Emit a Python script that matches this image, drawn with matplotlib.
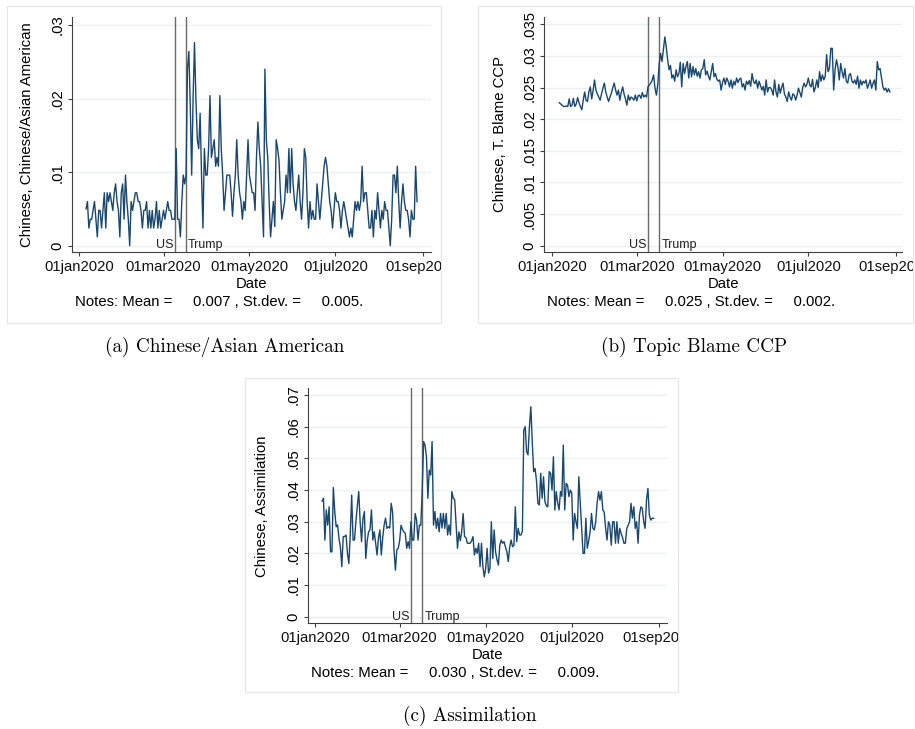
import matplotlib
matplotlib.use("Agg")
import matplotlib.pyplot as plt
from matplotlib.patches import Rectangle
from matplotlib.transforms import Bbox, TransformedBbox
import numpy as np

plt.rcParams['font.family'] = ['Liberation Sans', 'DejaVu Sans']

W, H = 915, 729

# ---------------- data ----------------
start_day = 5                     # first observation: 06jan2020 (day 0 = 01jan2020)
tick_days = [0, 60, 121, 182, 244]
tick_labels = ['01jan2020', '01mar2020', '01may2020', '01jul2020', '01sep2020']
event_days = [68, 76]
event_names = ['US', 'Trump']

# values in units of 0.001
asian = [5.0, 6.0, 2.4, 3.6, 3.6, 4.8, 6.0, 3.6, 1.2, 4.8,
         4.8, 2.4, 4.8, 7.2, 2.4, 7.2, 6.0, 7.2, 6.0, 4.8,
         7.2, 8.4, 6.0, 4.8, 1.2, 7.2, 8.4, 3.6, 9.6, 6.0,
         3.6, 0.0, 6.0, 4.8, 6.0, 7.2, 7.2, 6.0, 6.0, 4.8,
         2.4, 4.8, 4.8, 6.0, 2.4, 4.8, 2.4, 4.8, 2.4, 3.6,
         6.0, 2.4, 4.8, 2.4, 3.6, 4.8, 3.6, 4.8, 6.0, 4.8,
         4.8, 3.6, 3.6, 3.6, 13.2, 3.6, 3.6, 1.2, 6.0, 9.6,
         8.4, 9.6, 24.0, 26.4, 19.0, 9.6, 20.0, 27.6, 20.0, 14.4,
         13.2, 18.0, 9.6, 2.4, 13.2, 9.6, 9.6, 13.2, 20.4, 12.0,
         13.2, 14.4, 10.8, 12.0, 10.8, 20.4, 13.2, 9.6, 4.8, 7.2,
         9.6, 9.6, 9.6, 7.2, 4.0, 7.2, 9.6, 14.4, 9.6, 7.2,
         6.0, 3.6, 6.0, 4.8, 9.6, 14.4, 9.6, 8.4, 7.2, 7.2,
         4.8, 12.0, 16.8, 13.2, 10.8, 6.0, 1.2, 24.0, 14.4, 12.0,
         6.0, 1.2, 3.6, 6.0, 2.6, 14.4, 13.2, 11.6, 7.2, 3.6,
         4.8, 6.0, 9.6, 7.2, 13.2, 7.2, 13.2, 8.4, 6.0, 4.8,
         7.2, 9.6, 6.0, 3.6, 7.2, 13.2, 12.0, 6.0, 2.4, 6.0,
         3.6, 4.8, 3.6, 3.6, 8.4, 6.0, 3.6, 6.0, 8.4, 10.8,
         12.0, 10.8, 8.4, 6.0, 4.8, 2.4, 4.8, 7.2, 6.0, 6.0,
         4.8, 2.4, 4.8, 6.0, 4.8, 3.6, 2.4, 1.2, 2.4, 1.2,
         3.6, 6.0, 4.8, 6.0, 4.8, 6.0, 10.8, 6.0, 7.2, 7.2,
         4.8, 2.4, 2.4, 4.8, 1.2, 4.8, 3.6, 7.2, 4.8, 2.4,
         4.8, 3.6, 6.0, 4.8, 4.8, 2.4, 0.0, 3.6, 9.6, 9.6,
         7.2, 10.8, 6.0, 2.4, 6.0, 8.4, 6.0, 4.8, 4.8, 3.6,
         1.2, 4.8, 3.6, 3.6, 10.8, 6.0]

blame = [22.6, 22.4, 22.2, 22.0, 22.0, 22.1, 22.0, 23.2, 22.0, 22.2,
         23.3, 22.0, 22.4, 23.4, 22.6, 22.0, 21.5, 23.0, 24.3, 23.0,
         22.8, 24.3, 25.1, 23.2, 24.5, 26.2, 24.6, 24.0, 23.5, 23.0,
         24.0, 24.9, 25.7, 24.3, 23.5, 22.8, 23.5, 24.1, 25.0, 25.7,
         24.6, 23.8, 24.6, 23.0, 24.2, 25.1, 24.0, 23.2, 22.2, 23.8,
         23.0, 23.5, 23.3, 23.0, 23.8, 22.9, 23.7, 23.8, 23.3, 24.2,
         23.5, 23.8, 23.5, 25.1, 25.4, 25.7, 26.2, 27.0, 24.9, 23.8,
         25.5, 28.8, 30.4, 29.1, 31.0, 33.0, 31.4, 29.4, 27.8, 28.5,
         26.5, 27.0, 26.0, 27.8, 26.7, 27.2, 29.0, 25.1, 28.8, 27.2,
         28.3, 29.1, 26.5, 28.8, 26.7, 28.3, 27.0, 28.0, 26.8, 27.5,
         26.5, 27.8, 28.0, 29.4, 27.0, 27.6, 26.8, 26.2, 27.5, 28.8,
         26.7, 27.2, 26.3, 26.0, 26.2, 24.6, 25.8, 26.5, 25.5, 26.5,
         26.0, 25.1, 26.2, 24.9, 26.0, 25.4, 26.5, 25.8, 26.3, 26.5,
         25.1, 25.6, 24.6, 26.0, 25.5, 26.1, 25.2, 27.2, 26.0, 25.6,
         26.2, 24.9, 26.0, 25.3, 24.6, 25.2, 23.8, 26.2, 24.3, 25.0,
         25.0, 24.6, 23.8, 26.2, 24.3, 23.5, 25.5, 24.1, 25.0, 25.7,
         24.0, 23.5, 22.8, 24.3, 23.5, 23.0, 24.0, 23.8, 23.0, 23.8,
         24.9, 24.2, 23.5, 25.0, 25.7, 25.1, 25.5, 26.5, 25.4, 25.1,
         26.3, 24.3, 25.0, 26.2, 25.0, 27.5, 26.0, 27.0, 26.2, 26.8,
         30.2, 27.5, 28.0, 31.2, 31.2, 24.6, 27.8, 29.4, 28.3, 26.2,
         28.8, 27.5, 26.5, 28.0, 26.0, 25.7, 27.0, 27.2, 26.0, 25.7,
         26.2, 25.5, 26.8, 24.9, 26.2, 25.4, 26.0, 25.7, 26.2, 24.9,
         25.5, 26.2, 24.9, 25.7, 26.2, 24.6, 29.1, 27.8, 28.0, 26.5,
         25.1, 24.6, 24.9, 24.3, 24.8, 24.3]

assim = [36.5, 37.4, 24.2, 33.7, 28.9, 34.7, 20.5, 20.5, 40.8, 33.2,
         28.4, 29.0, 24.7, 22.0, 15.8, 25.3, 25.3, 25.8, 20.0, 16.8,
         26.0, 38.4, 24.2, 24.2, 30.0, 35.0, 39.5, 30.0, 23.7, 31.0,
         33.2, 18.4, 24.0, 26.8, 27.5, 33.7, 24.2, 26.8, 23.0, 19.5,
         25.0, 27.4, 19.5, 25.0, 28.9, 31.1, 27.9, 28.4, 28.0, 35.8,
         33.0, 21.0, 14.7, 21.1, 21.6, 24.0, 28.9, 27.5, 26.8, 26.3,
         21.6, 23.7, 21.6, 30.0, 24.2, 24.2, 32.6, 30.5, 24.2, 28.9,
         28.9, 40.0, 55.3, 54.2, 50.5, 37.4, 46.3, 44.7, 55.3, 28.9,
         33.2, 27.9, 31.1, 26.8, 32.6, 28.0, 32.6, 27.9, 32.6, 25.8,
         29.0, 25.8, 39.5, 37.4, 37.0, 29.0, 21.6, 26.8, 24.0, 27.0,
         32.6, 25.3, 25.0, 23.2, 23.2, 23.2, 24.0, 25.3, 19.5, 21.6,
         20.0, 23.2, 15.8, 23.2, 15.8, 12.6, 15.3, 21.6, 13.8, 15.3,
         30.0, 18.4, 27.4, 20.5, 18.0, 16.3, 22.6, 24.2, 23.2, 23.7,
         22.0, 20.5, 17.4, 22.0, 24.2, 22.1, 22.5, 34.7, 23.7, 27.9,
         25.8, 25.8, 27.0, 58.9, 60.0, 52.1, 51.1, 60.0, 66.3, 55.3,
         45.8, 46.8, 43.0, 35.8, 35.3, 45.3, 37.4, 44.2, 36.3, 35.0,
         34.7, 45.8, 45.3, 40.0, 50.5, 33.7, 39.5, 36.0, 33.7, 39.5,
         38.0, 54.2, 33.7, 42.1, 41.6, 37.9, 40.0, 39.0, 24.2, 32.6,
         30.0, 27.9, 44.2, 36.3, 28.0, 20.0, 20.0, 31.1, 21.6, 24.0,
         26.8, 32.6, 27.9, 27.4, 30.0, 36.0, 39.5, 36.8, 39.5, 33.7,
         33.0, 28.0, 24.2, 30.0, 28.9, 22.6, 30.0, 30.0, 23.2, 30.0,
         23.2, 27.9, 26.3, 25.0, 23.2, 23.2, 27.9, 28.9, 30.0, 35.8,
         31.1, 34.7, 27.9, 30.0, 23.2, 32.1, 34.7, 34.2, 30.0, 27.9,
         36.8, 40.5, 32.1, 30.5, 31.1, 31.1]

yticks_a = [0, 0.01, 0.02, 0.03]
ylabels_a = ['0', '.01', '.02', '.03']
yticks_b = [0, 0.005, 0.01, 0.015, 0.02, 0.025, 0.03, 0.035]
ylabels_b = ['0', '.005', '.01', '.015', '.02', '.025', '.03', '.035']
yticks_c = [0, 0.01, 0.02, 0.03, 0.04, 0.05, 0.06, 0.07]
ylabels_c = ['0', '.01', '.02', '.03', '.04', '.05', '.06', '.07']

LINE = '#1a476f'
GRID = '#eaf2f3'
AX = '#404040'
FS = 10.7

fig = plt.figure(figsize=(W / 100, H / 100), dpi=100)


def fx(x):
    return x / W


def fy(y):
    return 1 - y / H


def panel(ax_px, box_px, xlim, ylim, vals, yt, ytl, ylabel, note, caption, cap_xy, ylab_x):
    l, t, r, b = ax_px
    ax = fig.add_axes([fx(l), fy(b), (r - l) / W, (b - t) / H])
    bl, bt, br, bb = box_px
    fig.patches.append(Rectangle((fx(bl), fy(bb)), (br - bl) / W, (bb - bt) / H,
                                 transform=fig.transFigure, fill=False,
                                 edgecolor='#e6e6e6', lw=0.8))
    days = np.arange(start_day, start_day + len(vals))
    ax.plot(days, np.array(vals) * 0.001, color=LINE, lw=1.0, zorder=3)
    for d in event_days:
        ax.axvline(d, color='#6a6a6a', lw=1.0, zorder=2)
    ax.annotate(event_names[0], (event_days[0], 0), xycoords=('data', 'axes fraction'),
                xytext=(-1.2, 0.5), textcoords='offset points', ha='right', va='bottom',
                fontsize=9, color='#222222')
    ax.annotate(event_names[1], (event_days[1], 0), xycoords=('data', 'axes fraction'),
                xytext=(1.5, 0.5), textcoords='offset points', ha='left', va='bottom',
                fontsize=9, color='#222222')
    ax.set_xlim(*xlim)
    ax.set_ylim(*ylim)
    ax.set_yticks(yt)
    ax.set_yticklabels(ytl, rotation=90, va='center', fontsize=FS)
    ax.set_xticks(tick_days)
    ax.set_xticklabels([])
    ax.yaxis.grid(True, color=GRID, lw=1.0)
    ax.set_axisbelow(True)
    for s in ['top', 'right']:
        ax.spines[s].set_visible(False)
    for s in ['left', 'bottom']:
        ax.spines[s].set_color(AX)
        ax.spines[s].set_linewidth(0.8)
    ax.tick_params(axis='both', direction='out', length=3, width=0.8, color=AX)
    ax.tick_params(axis='y', pad=2.5)
    clip = TransformedBbox(Bbox.from_extents(fx(bl), fy(bb), fx(br), fy(bt)), fig.transFigure)
    for d, lab in zip(tick_days, tick_labels):
        tx = fig.text(d, -8.0 / (b - t), lab, transform=ax.get_xaxis_transform(),
                      ha='center', va='top', fontsize=FS, color='#111111')
        tx.set_clip_box(clip)
        tx.set_clip_on(True)
    fig.text((l + r) / 2 / W, fy(b + 25), 'Date', ha='center', va='top', fontsize=FS)
    fig.text(fx(l + 3), fy(b + 54), note, ha='left', va='baseline', fontsize=FS)
    fig.text(fx(ylab_x), fy((t + b) / 2), ylabel, rotation=90, ha='center', va='center',
             fontsize=FS)
    fig.text(fx(cap_xy[0]), fy(cap_xy[1]), caption, ha='center', va='center',
             fontsize=13.8, family='cmr10')
    return ax


panel((72, 17, 430.7, 252), (7, 6, 441, 323), (-4.97, 249.7), (-0.000856, 0.031086),
      asian, yticks_a, ylabels_a, 'Chinese, Chinese/Asian American',
      'Notes: Mean =     0.007 , St.dev. =     0.005.',
      '(a) Chinese/Asian American', (225, 347), 27)

panel((544, 17, 902.3, 252), (478, 6, 913, 323), (-5.9, 248.8), (-0.000996, 0.03615),
      blame, yticks_b, ylabels_b, 'Chinese, T. Blame CCP',
      'Notes: Mean =     0.025 , St.dev. =     0.002.',
      '(b) Topic Blame CCP', (694, 347), 500)

panel((308.3, 388.3, 666.7, 623.3), (245, 378, 678, 692), (-4.75, 249.3), (-0.00208, 0.07212),
      assim, yticks_c, ylabels_c, 'Chinese, Assimilation',
      'Notes: Mean =     0.030 , St.dev. =     0.009.',
      '(c) Assimilation', (470, 716), 262)

fig.savefig('out.png', dpi=100, facecolor='white')
